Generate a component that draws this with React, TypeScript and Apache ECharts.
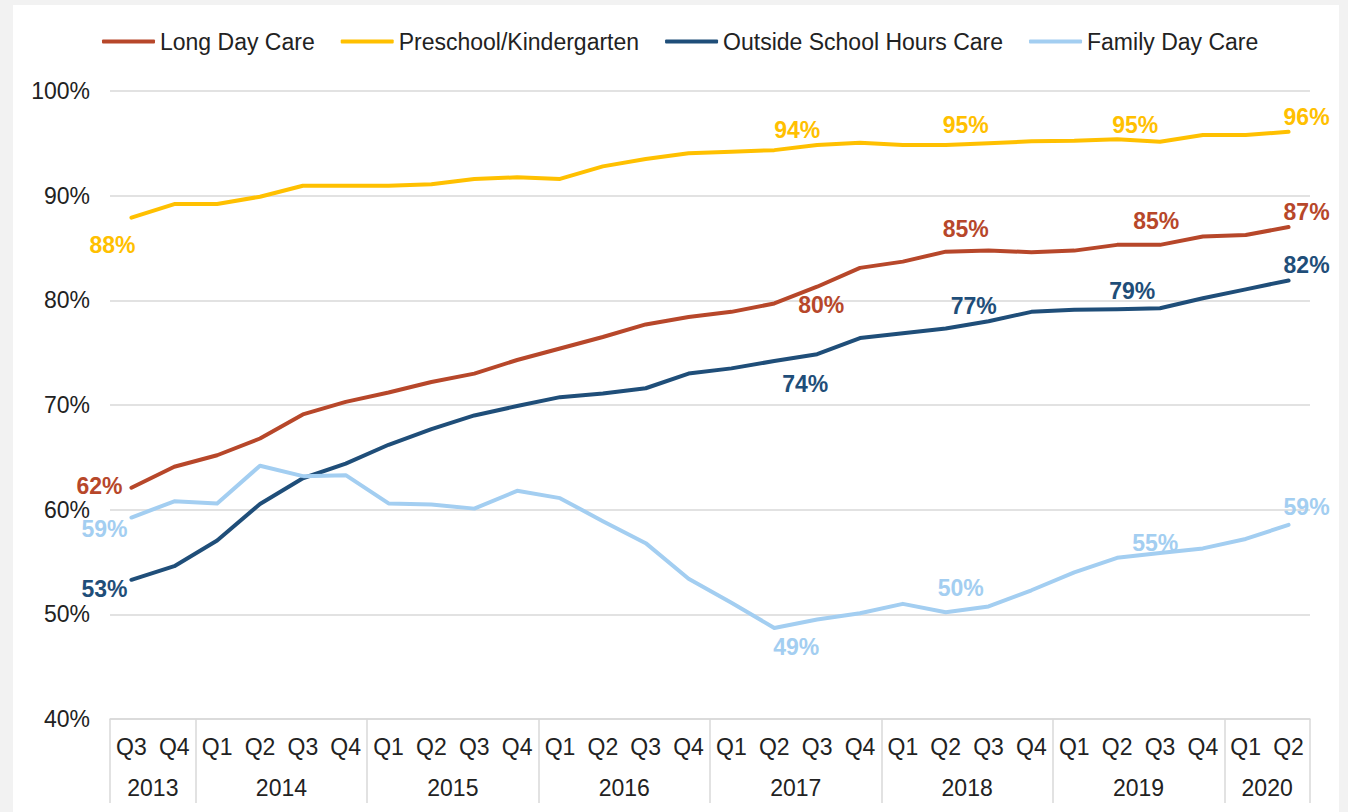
import React, { useEffect, useRef } from 'react';
import * as echarts from 'echarts';

const quarters = [
  'Q3', 'Q4',
  'Q1', 'Q2', 'Q3', 'Q4',
  'Q1', 'Q2', 'Q3', 'Q4',
  'Q1', 'Q2', 'Q3', 'Q4',
  'Q1', 'Q2', 'Q3', 'Q4',
  'Q1', 'Q2', 'Q3', 'Q4',
  'Q1', 'Q2', 'Q3', 'Q4',
  'Q1', 'Q2',
];
const yearLabels = ['2013', '2014', '2015', '2016', '2017', '2018', '2019', '2020'];
const quartersPerYear = [2, 4, 4, 4, 4, 4, 4, 2];

const seriesNames = ['Long Day Care', 'Preschool/Kindergarten', 'Outside School Hours Care', 'Family Day Care'];

const longDayCare = [
  62.1, 64.1, 65.2, 66.8, 69.1, 70.3, 71.2, 72.2, 73.0, 74.3, 75.4, 76.5, 77.7, 78.4,
  78.9, 79.7, 81.3, 83.1, 83.7, 84.65, 84.75, 84.6, 84.75, 85.3, 85.3, 86.1, 86.25, 87.0,
];
const preschool = [
  87.9, 89.2, 89.2, 89.9, 90.95, 90.95, 90.95, 91.1, 91.6, 91.75, 91.6, 92.8, 93.5, 94.05,
  94.2, 94.35, 94.85, 95.05, 94.85, 94.85, 95.0, 95.2, 95.25, 95.4, 95.15, 95.8, 95.8, 96.1,
];
const oshc = [
  53.3, 54.6, 57.05, 60.55, 63.0, 64.4, 66.2, 67.7, 69.0, 69.9, 70.75, 71.1, 71.6, 73.0,
  73.5, 74.2, 74.85, 76.4, 76.85, 77.3, 78.0, 78.9, 79.1, 79.15, 79.25, 80.2, 81.05, 81.9,
];
const familyDayCare = [
  59.25, 60.8, 60.6, 64.2, 63.2, 63.3, 60.6, 60.5, 60.1, 61.8, 61.1, 58.9, 56.8, 53.4,
  51.1, 48.7, 49.5, 50.1, 51.0, 50.2, 50.75, 52.3, 54.0, 55.4, 55.85, 56.3, 57.2, 58.55,
];

const labelledPoints = [0, 15, 19, 23, 27];

const FONT = '"Liberation Sans", Arial, sans-serif';
const TEXT = '#222222';
const GRID = '#d9d9d9';
const COLORS = ['#B7472A', '#FFC000', '#1F4E79', '#A3CEF1'];

// label offsets (style only): [dx, dy] from the point, per series per labelled point
const LABEL_OFFSETS: number[][][] = [
  [[-32, -2], [47, 2], [20, -23], [39, -24], [18, -15]],
  [[-19, 27], [23, -20], [20, -20], [18, -14], [18, -15]],
  [[-27, 9], [31, 23], [28, -23], [15, -18], [18, -15]],
  [[-27, 11], [22, 19], [15, -24], [38, -15], [18, -18]],
];

export default function App() {
  const ref = useRef<HTMLDivElement>(null);

  useEffect(() => {
    const chart = echarts.init(ref.current!, null, { renderer: 'svg' });

    const boundaries: number[] = [0];
    quartersPerYear.forEach((c) => boundaries.push(boundaries[boundaries.length - 1] + c));
    const mids = quartersPerYear.map((c, i) => boundaries[i] + c / 2);

    const allValues = [longDayCare, preschool, oshc, familyDayCare];

    const series = allValues.map((vals, si) => ({
      name: seriesNames[si],
      type: 'line',
      xAxisIndex: 0,
      yAxisIndex: 0,
      symbol: 'circle',
      symbolSize: 1,
      showSymbol: true,
      showAllSymbol: true,
      silent: true,
      color: COLORS[si],
      itemStyle: { color: COLORS[si] },
      lineStyle: { color: COLORS[si], width: 4, cap: 'round', join: 'round' },
      emphasis: { disabled: true },
      label: {
        show: false,
        position: 'inside',
        color: COLORS[si],
        fontSize: 23,
        fontWeight: 'bold',
        fontFamily: FONT,
        formatter: (p: any) => Math.round(p.value) + '%',
      },
      data: vals.map((v, i) => {
        const li = labelledPoints.indexOf(i);
        if (li < 0) return v;
        return { value: v, label: { show: true, offset: LABEL_OFFSETS[si][li] } };
      }),
    }));

    chart.setOption({
      animation: false,
      textStyle: { fontFamily: FONT },
      legend: {
        data: seriesNames,
        left: 102,
        top: 30,
        padding: 0,
        icon: 'roundRect',
        itemWidth: 53,
        itemHeight: 4,
        itemGap: 26,
        textStyle: { fontSize: 23, color: TEXT, fontFamily: FONT },
      },
      grid: { left: 110, right: 38, top: 91, bottom: 93, containLabel: false },
      xAxis: [
        {
          type: 'category',
          data: quarters,
          boundaryGap: true,
          position: 'bottom',
          axisLine: { show: true, lineStyle: { color: GRID, width: 1.5 } },
          axisTick: { show: false },
          axisLabel: { interval: 0, fontSize: 23, color: TEXT, margin: 16, fontFamily: FONT },
          splitLine: { show: false },
        },
        {
          type: 'value',
          min: 0,
          max: boundaries[boundaries.length - 1],
          position: 'bottom',
          axisLine: { show: false },
          splitLine: { show: false },
          axisTick: {
            show: true,
            customValues: boundaries,
            length: 84,
            lineStyle: { color: GRID, width: 1.5 },
          },
          axisLabel: {
            customValues: mids,
            formatter: (v: number) => {
              const idx = mids.indexOf(v);
              return idx >= 0 ? yearLabels[idx] : '';
            },
            fontSize: 23,
            color: TEXT,
            margin: 57,
            fontFamily: FONT,
          },
        },
      ],
      yAxis: {
        type: 'value',
        min: 40,
        max: 100,
        interval: 10,
        axisLine: { show: false },
        axisTick: { show: false },
        axisLabel: { formatter: '{value}%', fontSize: 23, color: TEXT, margin: 20, fontFamily: FONT },
        splitLine: { lineStyle: { color: GRID, width: 1.5 } },
      },
      series,
    });

    return () => chart.dispose();
  }, []);

  return (
    <div
      style={{
        position: 'fixed',
        left: 0,
        top: 0,
        width: 1348,
        height: 812,
        background: '#f2f2f2',
        overflow: 'hidden',
      }}
    >
      <div style={{ position: 'absolute', left: 13, top: 5, width: 1326, height: 807, background: '#ffffff' }} />
      <div ref={ref} style={{ position: 'absolute', left: 0, top: 0, width: 1348, height: 812 }} />
    </div>
  );
}
